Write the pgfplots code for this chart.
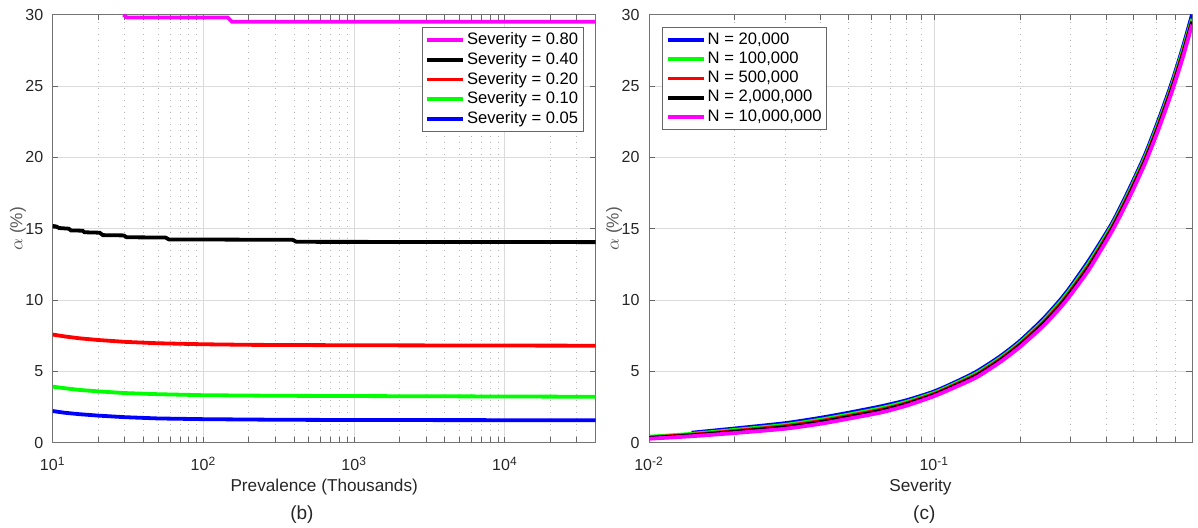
\documentclass[border=0pt]{standalone}
\usepackage{fontspec}
\setmainfont{Liberation Sans}
\usepackage{pgfplots}
\pgfplotsset{compat=1.18}
\definecolor{mmag}{rgb}{1,0,1}
\definecolor{mgreen}{rgb}{0,1,0}
\definecolor{mred}{rgb}{1,0,0}
\definecolor{mblue}{rgb}{0,0,1}

\pgfplotsset{
 mystyle/.style={
   scale only axis, width=271.5pt, height=214pt,
   ymin=0, ymax=30, ytick={0,5,...,30},
   grid=both,
   clip mode=individual,
   major grid style={draw=black!14, line width=0.5pt},
   minor grid style={draw=black!30, line width=0.5pt, dash pattern=on 0.5pt off 2.5pt},
   axis line style={draw=black!55, line width=0.5pt},
   tick style={draw=black!60, line width=0.5pt},
   major tick length=2.8pt, minor tick length=2.8pt,
   tick label style={font=\fontsize{8}{9.6}\selectfont, text=black!85},
   /pgf/number format/assume math mode=true,
   yticklabel style={xshift=-1.2pt},
   xticklabel style={yshift=-3.5pt},
   xlabel style={at={(axis description cs:0.5,-0.1028)}, anchor=center, font=\fontsize{8.6}{10}\selectfont, text=black!85},
   ylabel style={at={(axis description cs:-0.064,0.5)}, anchor=center, font=\fontsize{8.6}{10}\selectfont, text=black!65},
   legend cell align=left,
   legend image code/.code={\draw[##1, line width=1.9pt] (0pt,0pt) -- (18pt,0pt);},
   legend style={draw=black!60, line width=0.5pt, fill=white, font=\fontsize{8.3}{9.65}\selectfont, inner xsep=1.5pt, inner ysep=1.8pt, row sep=0.3pt, nodes={inner sep=1pt}},
   every axis plot/.append style={line width=1.9pt},
 }
}

\begin{document}
\begin{tikzpicture}
\path[use as bounding box] (-26.35pt,-42.15pt) rectangle (572.65pt,221.35pt);

% ---------------- (b) ----------------
\begin{axis}[xmode=log, mystyle,
  at={(0pt,0pt)}, anchor=south west,
  xmin=10, xmax=40000,
  xtick={10,100,1000,10000},
  xticklabels={10\textsuperscript{1},10\textsuperscript{2},10\textsuperscript{3},10\textsuperscript{4}},
  minor xtick={20,30,40,50,60,70,80,90,200,300,400,500,600,700,800,900,2000,3000,4000,5000,6000,7000,8000,9000,20000,30000},
  xlabel={Prevalence (Thousands)},
  ylabel={$\alpha$ (\%)},
  legend style={at={(axis description cs:1,1)}, anchor=north east, xshift=-6pt, yshift=-6pt},
]
\addplot[mmag] coordinates {(29.5,30) (31,29.8) (145,29.8) (155,29.5) (40000,29.5)};
\addplot[black] coordinates {(10,15.2) (10.6,15.15) (11,15.05) (12.8,15.0) (13.2,14.88) (15.8,14.86) (16.2,14.75) (20.5,14.72) (21.5,14.55) (29.5,14.53) (31,14.4) (56,14.38) (59,14.25) (390,14.22) (415,14.08) (40000,14.06)};
\addplot[mred] coordinates {(10,7.58) (12,7.45) (15,7.32) (20,7.2) (30,7.07) (50,6.97) (100,6.9) (200,6.86) (1000,6.83) (10000,6.81) (40000,6.8)};
\addplot[mgreen] coordinates {(10,3.93) (12,3.82) (15,3.7) (20,3.6) (30,3.48) (50,3.4) (100,3.33) (300,3.29) (1000,3.27) (10000,3.24) (40000,3.22)};
\addplot[mblue] coordinates {(10,2.22) (12,2.1) (15,2.0) (20,1.9) (30,1.79) (50,1.7) (100,1.65) (300,1.61) (1000,1.59) (10000,1.58) (40000,1.57)};
\legend{Severity = 0.80, Severity = 0.40, Severity = 0.20, Severity = 0.10, Severity = 0.05}
\node[font=\fontsize{9.5}{11}\selectfont, text=black!85] at (axis description cs:0.459,-0.168) {(b)};
\end{axis}

% ---------------- (c) ----------------
\begin{axis}[xmode=log, mystyle,
  at={(298.15pt,0pt)}, anchor=south west,
  xmin=0.01, xmax=0.8,
  xtick={0.01,0.1},
  xticklabels={10\textsuperscript{-2},10\textsuperscript{-1}},
  minor xtick={0.02,0.03,0.04,0.05,0.06,0.07,0.08,0.09,0.2,0.3,0.4,0.5,0.6,0.7},
  xlabel={Severity},
  ylabel={$\alpha$ (\%)},
  legend style={at={(axis description cs:0,1)}, anchor=north west, xshift=6.7pt, yshift=-6pt},
  every axis plot/.append style={smooth, tension=0.4},
]
\addplot[mblue] coordinates {(0.0141,0.70) (0.02,1.0) (0.03,1.37) (0.04,1.75) (0.05,2.1) (0.065,2.55) (0.08,2.98) (0.1,3.6) (0.12,4.3) (0.141,5.0) (0.17,6.05) (0.2,7.15) (0.24,8.65) (0.276,10.0) (0.3,10.93) (0.35,12.85) (0.42,15.4) (0.48,17.7) (0.548,20.2) (0.61,22.6) (0.676,25.1) (0.74,27.6) (0.8,30.0)};
\addplot[mgreen] coordinates {(0.01,0.42) (0.0141,0.62) (0.02,0.9) (0.03,1.25) (0.04,1.62) (0.05,1.97) (0.065,2.42) (0.08,2.87) (0.1,3.5) (0.12,4.2) (0.141,4.88) (0.17,5.93) (0.2,7.02) (0.24,8.5) (0.276,9.84) (0.3,10.76) (0.35,12.66) (0.42,15.24) (0.48,17.52) (0.548,20.02) (0.61,22.4) (0.676,24.9) (0.74,27.4) (0.8,29.7)};
\addplot[mred] coordinates {(0.01,0.36) (0.0141,0.56) (0.02,0.82) (0.03,1.16) (0.04,1.52) (0.05,1.87) (0.065,2.31) (0.08,2.77) (0.1,3.42) (0.12,4.11) (0.141,4.78) (0.17,5.83) (0.2,6.92) (0.24,8.38) (0.276,9.7) (0.3,10.61) (0.35,12.49) (0.42,15.1) (0.48,17.37) (0.548,19.87) (0.61,22.24) (0.676,24.74) (0.74,27.2) (0.8,29.55)};
\addplot[black] coordinates {(0.01,0.32) (0.0141,0.51) (0.02,0.76) (0.03,1.08) (0.04,1.44) (0.05,1.79) (0.065,2.23) (0.08,2.7) (0.1,3.35) (0.12,4.04) (0.141,4.7) (0.17,5.75) (0.2,6.84) (0.24,8.28) (0.276,9.59) (0.3,10.5) (0.35,12.36) (0.42,14.99) (0.48,17.25) (0.548,19.75) (0.61,22.11) (0.676,24.61) (0.74,27.07) (0.8,29.47)};
\addplot[mmag] coordinates {(0.01,0.28) (0.014,0.45) (0.02,0.68) (0.03,0.98) (0.04,1.33) (0.05,1.68) (0.065,2.12) (0.08,2.6) (0.1,3.27) (0.12,3.95) (0.141,4.6) (0.17,5.65) (0.2,6.73) (0.24,8.15) (0.276,9.45) (0.3,10.35) (0.35,12.2) (0.42,14.85) (0.48,17.1) (0.548,19.6) (0.61,21.95) (0.676,24.45) (0.74,26.9) (0.8,29.3)};
\legend{{N = 20,000}, {N = 100,000}, {N = 500,000}, {N = 2,000,000}, {N = 10,000,000}}
\node[font=\fontsize{9.5}{11}\selectfont, text=black!85] at (axis description cs:0.507,-0.168) {(c)};
\end{axis}
\end{tikzpicture}
\end{document}
